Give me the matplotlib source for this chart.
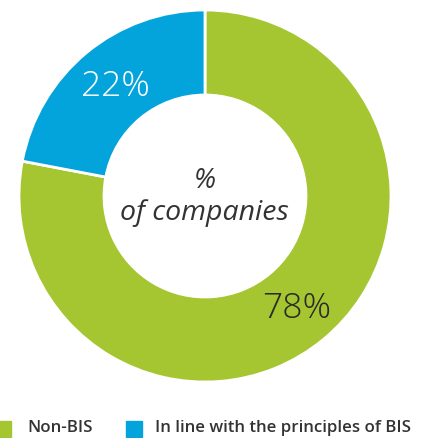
import matplotlib
matplotlib.use("Agg")
import matplotlib.pyplot as plt
from matplotlib.patches import Rectangle

# share of companies by BIS alignment
labels = ["Non-BIS", "In line with the principles of BIS"]
shares = [78, 22]
colors = ["#A5C631", "#03A4DC"]
label_colors = ["#2a2a2a", "white"]

plt.rcParams["font.family"] = ["Open Sans", "DejaVu Sans"]

W, H = 427, 438
fig = plt.figure(figsize=(W / 100, H / 100), dpi=100)
ax = fig.add_axes([0, 0, 1, 1])

cx, cy, r_out, r_in = 205, 196, 186, 101


def flip(y):
    # layout below is measured top-down, axes is y-up
    return H - y


ax.pie(
    shares,
    colors=colors,
    startangle=90,
    counterclock=False,
    radius=r_out,
    center=(cx, flip(cy)),
    wedgeprops=dict(width=r_out - r_in, edgecolor="white", linewidth=2),
    frame=True,
)
ax.set_xlim(0, W)
ax.set_ylim(0, H)
ax.set_aspect("equal")
ax.axis("off")

# percentage labels inside the ring
pos = [(297, 309), (115, 87)]
for (x, y), s, c in zip(pos, shares, label_colors):
    ax.text(x, flip(y), f"{s}%", color=c, fontsize=25.5, ha="center",
            va="center", fontweight="light")

# centre caption
ax.text(205, flip(181), "%", fontsize=20, style="italic", color="#333333",
        ha="center", va="center")
ax.text(204, flip(213), "of companies", fontsize=20.5, style="italic",
        color="#333333", ha="center", va="center")

# legend row
lx = [-5, 126]
tx = [27, 155]
for x, t, c, name in zip(lx, tx, colors, labels):
    ax.add_patch(Rectangle((x, flip(437)), 16, 16, color=c, clip_on=False))
    ax.text(t, flip(428.5), name, fontsize=12.2, color="#333333", ha="left",
            va="center", fontweight="semibold")

fig.savefig("out.png", dpi=100)
